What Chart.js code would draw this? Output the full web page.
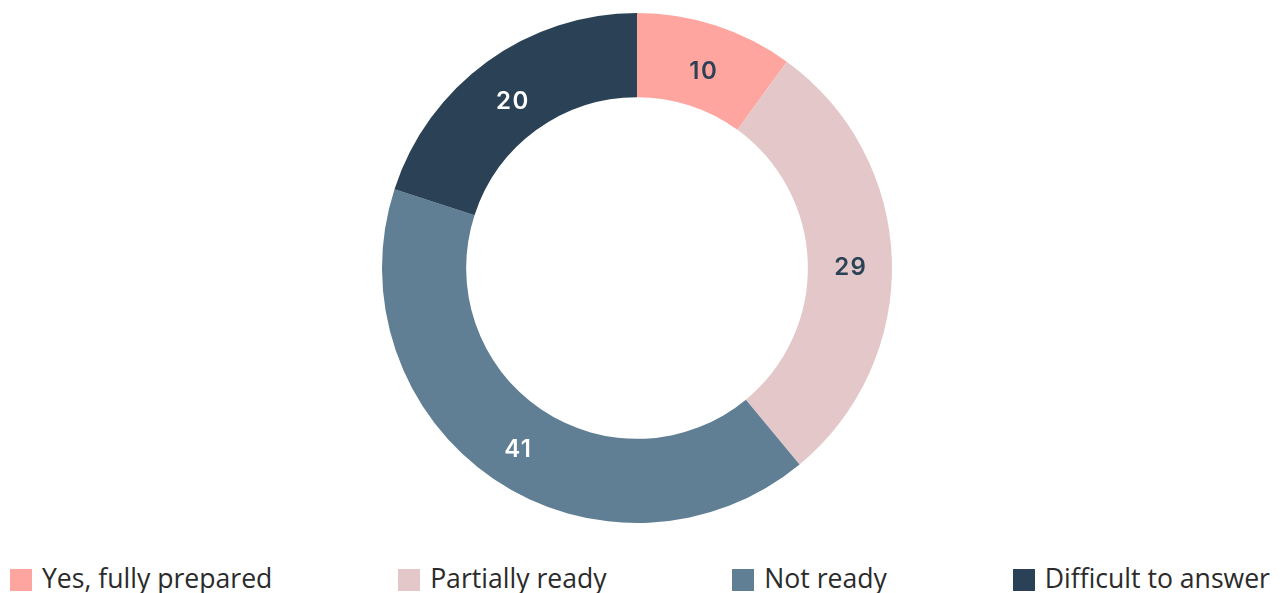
<!DOCTYPE html>
<html>
<head>
<meta charset="utf-8">
<script src="https://cdn.jsdelivr.net/npm/chart.js@4/dist/chart.umd.min.js"></script>
<style>
  html, body { margin: 0; padding: 0; background: #fff; }
  body { width: 1282px; height: 593px; overflow: hidden; }
  .chart-wrap { position: relative; width: 1282px; height: 540px; }
  .legend {
    display: flex;
    justify-content: space-between;
    align-items: center;
    padding: 0 12px 0 10px;
    margin-top: 27px;
    font-family: 'Open Sans', sans-serif;
    font-size: 26.6px;
    color: #2b2b2b;
  }
  .legend-item { display: flex; align-items: center; white-space: nowrap; }
  .legend-box { width: 22px; height: 22px; margin-right: 10px; flex: none; }
  .legend-text { line-height: 26px; position: relative; top: -2px; }
</style>
</head>
<body>
<div class="chart-wrap"><canvas id="donut"></canvas></div>
<div class="legend" id="legend"></div>

<script>
// ===== Data =====
const labels = ['Yes, fully prepared', 'Partially ready', 'Not ready', 'Difficult to answer'];
const values = [10, 29, 41, 20];
const colors = ['#FFA59F', '#E4C8C9', '#617F94', '#2B4256'];
const labelColors = ['#2B4256', '#2B4256', '#FFFFFF', '#FFFFFF'];

// value labels drawn in the middle of each arc
const arcLabels = {
    id: 'arcLabels',
    afterDatasetsDraw(chart) {
        const ctx = chart.ctx;
        const meta = chart.getDatasetMeta(0);
        ctx.save();
        ctx.font = '600 24px Inter, sans-serif';
        if ('letterSpacing' in ctx) ctx.letterSpacing = '1.5px';
        ctx.textAlign = 'center';
        ctx.textBaseline = 'middle';
        meta.data.forEach((arc, i) => {
            const pos = arc.tooltipPosition();
            ctx.fillStyle = labelColors[i];
            ctx.fillText(String(values[i]), pos.x + 1, pos.y + 6);
        });
        ctx.restore();
    }
};

const chart = new Chart(document.getElementById('donut'), {
    type: 'doughnut',
    data: {
        labels: labels,
        datasets: [{
            data: values,
            backgroundColor: colors,
            borderWidth: 0,
            hoverOffset: 0
        }]
    },
    options: {
        responsive: true,
        maintainAspectRatio: false,
        animation: false,
        cutout: '67%',
        layout: { padding: { top: 13, bottom: 17, left: 0, right: 8 } },
        plugins: {
            legend: { display: false },
            tooltip: { enabled: false }
        }
    },
    plugins: [arcLabels]
});

// HTML legend built from the same arrays
const legendEl = document.getElementById('legend');
labels.forEach((name, i) => {
    const item = document.createElement('div');
    item.className = 'legend-item';
    const box = document.createElement('span');
    box.className = 'legend-box';
    box.style.background = colors[i];
    const txt = document.createElement('span');
    txt.className = 'legend-text';
    txt.textContent = name;
    item.appendChild(box);
    item.appendChild(txt);
    legendEl.appendChild(item);
});
</script>
</body>
</html>
